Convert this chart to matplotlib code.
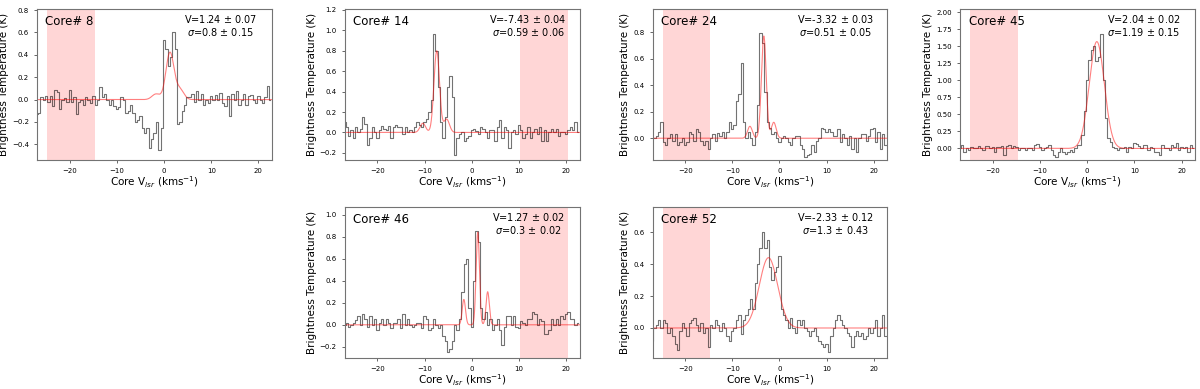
import numpy as np
import matplotlib
matplotlib.use("Agg")
import matplotlib.pyplot as plt
from matplotlib.ticker import MultipleLocator

# channel velocities (km/s), 0.5 km/s channels
v_start, dv, n_chan = -27.0, 0.5, 100

cores = [8, 14, 24, 45, 46, 52]

t_core8 = [
    -0.13, -0.12, 0.02, 0.00, 0.03, -0.02, 0.03, -0.06, 0.09, 0.07,
    -0.08, 0.00, 0.01, -0.02, 0.09, -0.02, 0.02, -0.13, -0.02, 0.00,
    -0.05, 0.02, 0.00, -0.03, 0.03, -0.05, 0.00, 0.11, 0.02, 0.05,
    0.00, -0.05, 0.00, -0.06, -0.08, -0.07, 0.02, 0.00, -0.12, -0.10,
    -0.05, -0.12, -0.20, -0.18, -0.15, -0.25, -0.30, -0.25, -0.43, -0.35,
    -0.30, -0.20, -0.45, -0.25, 0.53, 0.45, 0.30, 0.38, 0.60, 0.45,
    -0.22, -0.20, -0.10, -0.05, 0.02, 0.02, 0.05, -0.02, 0.08, 0.00,
    0.05, -0.05, 0.00, -0.03, 0.03, 0.00, 0.04, 0.00, 0.06, -0.03,
    -0.06, 0.03, -0.15, 0.05, 0.00, 0.08, -0.05, 0.00, 0.05, -0.05,
    0.03, 0.04, 0.00, -0.03, 0.03, 0.00, -0.03, 0.02, 0.12, 0.00,
]
t_core14 = [
    0.10, 0.05, -0.03, 0.02, -0.05, 0.05, 0.00, 0.03, 0.15, 0.08,
    -0.12, -0.05, 0.05, 0.00, -0.05, 0.02, 0.06, 0.03, 0.02, 0.06,
    -0.05, 0.05, 0.07, 0.05, 0.05, -0.02, 0.05, 0.00, 0.02, 0.00,
    0.05, 0.10, 0.07, 0.05, 0.10, 0.13, 0.20, 0.32, 0.96, 0.80,
    0.45, 0.10, -0.05, 0.15, 0.45, 0.55, 0.35, -0.22, -0.05, -0.02,
    0.00, -0.08, -0.05, -0.03, 0.02, 0.03, 0.01, -0.02, 0.05, 0.03,
    0.00, -0.05, 0.02, 0.02, -0.08, 0.05, 0.12, -0.05, 0.05, 0.02,
    -0.15, 0.00, 0.02, -0.02, 0.07, 0.02, -0.05, -0.02, 0.05, -0.05,
    0.00, 0.03, -0.02, 0.05, -0.08, 0.02, -0.08, 0.00, 0.03, 0.00,
    0.03, -0.03, 0.00, 0.00, -0.02, 0.02, 0.05, 0.02, 0.10, 0.00,
]
t_core24 = [
    0.00, 0.00, 0.02, 0.05, 0.12, -0.03, -0.05, 0.00, 0.03, -0.02,
    0.03, -0.05, -0.03, 0.00, -0.05, -0.03, 0.05, 0.03, -0.02, 0.07,
    0.05, -0.02, -0.05, -0.02, -0.08, 0.00, 0.03, -0.02, 0.04, 0.02,
    0.05, 0.00, 0.05, 0.12, 0.07, 0.10, 0.28, 0.33, 0.57, 0.12,
    0.00, 0.05, 0.00, -0.05, 0.05, 0.25, 0.79, 0.72, 0.35, 0.12,
    0.08, 0.03, 0.05, 0.00, -0.03, 0.00, 0.02, 0.00, -0.03, -0.05,
    0.00, 0.02, 0.02, -0.05, -0.08, -0.14, -0.13, -0.12, -0.05, -0.10,
    -0.02, 0.00, 0.08, 0.07, 0.05, 0.07, 0.05, 0.02, 0.02, 0.07,
    -0.03, 0.03, 0.00, -0.05, 0.02, -0.08, 0.00, -0.10, 0.00, 0.03,
    0.03, -0.02, 0.02, 0.07, 0.08, -0.03, 0.05, -0.08, 0.03, -0.05,
]
t_core45 = [
    0.00, 0.05, -0.05, 0.00, -0.03, 0.02, 0.00, 0.00, 0.03, 0.01,
    -0.02, 0.03, 0.03, 0.00, 0.02, -0.05, 0.02, 0.02, 0.03, -0.10,
    0.03, 0.05, 0.00, 0.03, 0.02, -0.02, 0.00, 0.01, -0.02, 0.00,
    0.00, -0.03, 0.05, 0.07, 0.02, -0.03, 0.00, 0.02, 0.05, -0.02,
    -0.10, -0.12, -0.05, 0.00, -0.05, -0.08, -0.05, -0.03, -0.05, 0.00,
    0.05, 0.05, 0.20, 0.55, 1.00, 1.30, 1.45, 1.50, 1.28, 1.35,
    1.68, 1.00, 0.45, 0.15, 0.10, 0.02, 0.00, -0.02, 0.00, 0.00,
    0.02, -0.05, 0.02, 0.00, 0.08, 0.06, 0.03, 0.00, 0.05, 0.05,
    -0.03, 0.02, 0.00, -0.05, -0.05, -0.10, 0.05, 0.00, 0.00, -0.03,
    0.05, 0.02, 0.08, -0.02, 0.02, 0.00, 0.02, -0.05, 0.05, 0.00,
]
t_core46 = [
    0.00, 0.02, -0.02, 0.00, 0.02, 0.04, 0.08, 0.00, 0.10, 0.05,
    -0.02, 0.08, 0.00, 0.05, -0.05, 0.02, 0.05, 0.00, 0.05, 0.02,
    -0.03, 0.02, 0.02, 0.05, -0.03, 0.10, 0.00, 0.05, 0.00, -0.02,
    0.00, 0.02, 0.02, -0.03, 0.08, 0.05, -0.05, -0.03, 0.05, 0.00,
    -0.03, 0.00, -0.10, -0.15, -0.25, -0.22, -0.15, 0.00, -0.05, 0.05,
    0.30, 0.55, 0.60, 0.15, -0.02, 0.40, 0.85, 0.75, 0.15, 0.05,
    0.12, 0.00, 0.05, -0.05, 0.00, 0.05, -0.05, -0.18, -0.02, 0.08,
    0.08, 0.00, 0.08, -0.02, -0.03, 0.03, 0.02, 0.00, 0.05, 0.05,
    0.12, 0.10, 0.00, 0.05, 0.03, -0.08, -0.08, -0.05, 0.05, 0.00,
    0.05, 0.00, 0.08, 0.05, 0.10, 0.12, 0.05, 0.05, 0.00, 0.02,
]
t_core52 = [
    -0.08, 0.00, 0.02, 0.05, 0.00, 0.05, 0.03, -0.03, 0.00, -0.05,
    -0.10, -0.14, -0.02, 0.03, 0.00, -0.05, 0.03, 0.05, 0.06, 0.02,
    -0.02, 0.03, -0.03, 0.00, -0.12, 0.02, 0.00, 0.05, 0.02, -0.02,
    0.03, 0.00, -0.05, -0.08, -0.02, 0.00, 0.05, 0.08, -0.04, 0.05,
    0.08, 0.12, 0.18, 0.12, 0.28, 0.40, 0.50, 0.60, 0.50, 0.55,
    0.38, 0.30, 0.35, 0.38, 0.45, 0.12, 0.08, 0.05, 0.00, 0.06,
    0.00, -0.03, 0.05, 0.02, 0.05, 0.00, -0.02, -0.05, -0.02, 0.00,
    -0.05, -0.08, -0.10, -0.12, -0.10, -0.15, -0.05, 0.00, 0.05, 0.08,
    0.05, 0.02, 0.00, -0.03, -0.05, -0.12, -0.05, -0.02, -0.05, -0.03,
    -0.07, -0.05, 0.00, -0.03, 0.00, 0.05, -0.05, 0.00, 0.08, -0.05,
]
spectra = [t_core8, t_core14, t_core24, t_core45, t_core46, t_core52]

# fit results (labels) and fit-curve parameters
fit_v = [1.24, -7.43, -3.32, 2.04, 1.27, -2.33]
fit_v_err = [0.07, 0.04, 0.03, 0.02, 0.02, 0.12]
fit_sig = [0.8, 0.59, 0.51, 1.19, 0.3, 1.3]
fit_sig_err = [0.15, 0.06, 0.05, 0.15, 0.02, 0.43]
curve_width = [0.85, 0.59, 0.51, 1.6, 0.35, 1.95]
amp_main = [0.42, 0.80, 0.77, 1.57, 0.84, 0.44]
amp_left = [0.05, 0.09, 0.09, 0.0, 0.23, 0.0]
amp_right = [0.09, 0.13, 0.12, 0.0, 0.30, 0.0]
sat_offsets = [-2.95, 2.1]

# off-line (baseline) windows
base_lo = [-24.8, 10.2, -24.8, -24.8, 10.2, -24.8]
base_hi = [-14.7, 20.4, -14.7, -14.7, 20.4, -14.7]

ylims = [(-0.54, 0.81), (-0.27, 1.21), (-0.164, 0.974),
         (-0.17, 2.05), (-0.30, 1.07), (-0.187, 0.758)]
ystep = [0.2, 0.2, 0.2, 0.25, 0.2, 0.2]

# grid slots used (row, col)
slots = [(0, 0), (0, 1), (0, 2), (0, 3), (1, 1), (1, 2)]


def gauss(x, a, mu, s):
    return a * np.exp(-0.5 * ((x - mu) / s) ** 2)


fig, axes = plt.subplots(2, 4, figsize=(12, 3.89), dpi=100)
fig.subplots_adjust(left=0.031, right=0.996, top=0.977, bottom=0.08,
                    wspace=0.31, hspace=0.31)
axes[1, 0].axis("off")
axes[1, 3].axis("off")

vel = v_start + dv * np.arange(n_chan)
vfine = np.linspace(-27, 23, 1500)

for i, (r, c) in enumerate(slots):
    ax = axes[r, c]
    ax.axvspan(base_lo[i], base_hi[i], color="red", alpha=0.16, lw=0)
    ax.step(vel, spectra[i], where="mid", color="k", alpha=0.55, lw=0.8)
    model = (gauss(vfine, amp_main[i], fit_v[i], curve_width[i])
             + gauss(vfine, amp_left[i], fit_v[i] + sat_offsets[0], curve_width[i])
             + gauss(vfine, amp_right[i], fit_v[i] + sat_offsets[1], curve_width[i]))
    ax.plot(vfine, model, color="red", alpha=0.5, lw=0.8)

    ax.set_xlim(-26.9, 22.9)
    ax.set_ylim(*ylims[i])
    ax.xaxis.set_major_locator(MultipleLocator(10))
    ax.yaxis.set_major_locator(MultipleLocator(ystep[i]))
    ax.tick_params(labelsize=5, length=2.5, width=0.6, color="0.3")
    for sp in ax.spines.values():
        sp.set_color("0.45")
        sp.set_linewidth(0.8)

    ax.set_xlabel(r"Core V$_{lsr}$ (kms$^{-1}$)", fontsize=7.5, labelpad=0.5)
    ax.set_ylabel("Brightness Temperature (K)", fontsize=7.5, labelpad=2)
    ax.text(0.035, 0.96, f"Core# {cores[i]}", transform=ax.transAxes,
            ha="left", va="top", fontsize=8.5)
    ax.text(0.78, 0.975,
            f"V={fit_v[i]} $\\pm$ {fit_v_err[i]}\n$\\sigma$={fit_sig[i]} $\\pm$ {fit_sig_err[i]}",
            transform=ax.transAxes, ha="center", va="top", fontsize=7,
            multialignment="center", linespacing=1.1)

fig.savefig("out.png", dpi=100)
